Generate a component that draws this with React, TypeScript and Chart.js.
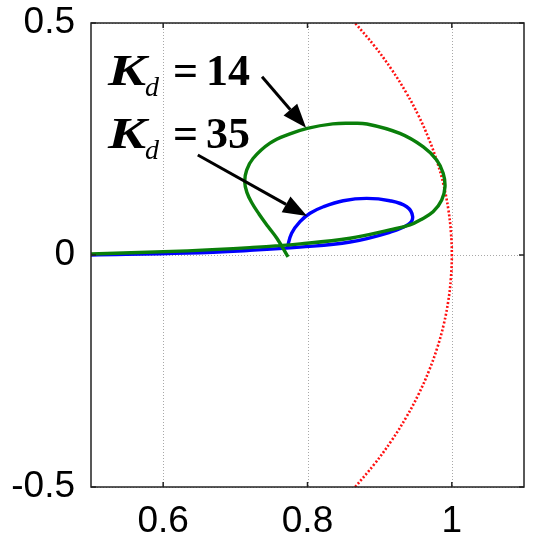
import React, { useEffect, useRef } from "react";
import { Chart, registerables } from "chart.js";

Chart.register(...registerables);

// Axis ticks
const xTicks = [0.6, 0.8, 1.0];
const yTicks = [-0.5, 0, 0.5];

// K_d = 14 (green)
const kd14X = [0.5, 0.634, 0.72, 0.79, 0.859, 0.914, 0.942, 0.956, 0.974, 0.986, 0.9905, 0.988, 0.979, 0.9605, 0.928, 0.8824, 0.859, 0.835, 0.7997, 0.7757, 0.748, 0.7245, 0.7157, 0.713, 0.716, 0.723, 0.733, 0.745, 0.758, 0.773];
const kd14Y = [0.002, 0.009, 0.016, 0.024, 0.036, 0.054, 0.0647, 0.0754, 0.093, 0.1185, 0.147, 0.176, 0.2047, 0.233, 0.262, 0.2823, 0.2838, 0.2825, 0.273, 0.261, 0.241, 0.208, 0.183, 0.158, 0.135, 0.112, 0.088, 0.062, 0.035, -0.004];

// K_d = 35 (blue)
const kd35X = [0.5, 0.634, 0.72, 0.7896, 0.859, 0.914, 0.9397, 0.9457, 0.9375, 0.914, 0.882, 0.8496, 0.822, 0.8035, 0.7896, 0.778, 0.772];
const kd35Y = [0.0, 0.004, 0.01, 0.017, 0.028, 0.049, 0.066, 0.0825, 0.104, 0.117, 0.122, 0.117, 0.104, 0.09, 0.072, 0.047, 0.016];

// Unit circle arc (red dotted)
const circleX = [0.866, 0.893, 0.9165, 0.9367, 0.9539, 0.9682, 0.9798, 0.9887, 0.995, 0.9987, 1.0, 0.9987, 0.995, 0.9887, 0.9798, 0.9682, 0.9539, 0.9367, 0.9165, 0.893, 0.866];
const circleY = [-0.5, -0.45, -0.4, -0.35, -0.3, -0.25, -0.2, -0.15, -0.1, -0.05, 0, 0.05, 0.1, 0.15, 0.2, 0.25, 0.3, 0.35, 0.4, 0.45, 0.5];

// Annotations
const labelValues = ["14", "35"];
const labelX = [0.5277, 0.5277];
const labelY = [0.366, 0.2306];
const arrowFromX = [0.737, 0.648];
const arrowFromY = [0.384, 0.2155];
const arrowToX = [0.798, 0.7993];
const arrowToY = [0.274, 0.084];

const toPts = (xs: number[], ys: number[]) => xs.map((x, i) => ({ x, y: ys[i] }));

const gridPlugin = {
  id: "dotGrid",
  beforeDatasetsDraw(chart: any) {
    const { ctx, chartArea: a, scales } = chart;
    ctx.save();
    ctx.strokeStyle = "#a8a8a8";
    ctx.lineWidth = 1;
    ctx.setLineDash([1, 2]);
    xTicks.forEach((v) => {
      const px = Math.round(scales.x.getPixelForValue(v)) + 0.5;
      ctx.beginPath();
      ctx.moveTo(px, a.top);
      ctx.lineTo(px, a.bottom);
      ctx.stroke();
    });
    yTicks.forEach((v) => {
      const py = Math.round(scales.y.getPixelForValue(v)) + 0.5;
      ctx.beginPath();
      ctx.moveTo(a.left, py);
      ctx.lineTo(a.right, py);
      ctx.stroke();
    });
    ctx.restore();
  },
};

const framePlugin = {
  id: "frame",
  afterDatasetsDraw(chart: any) {
    const { ctx, chartArea: a, scales } = chart;
    const xs = scales.x;
    const ys = scales.y;
    ctx.save();
    ctx.strokeStyle = "#222";
    ctx.lineWidth = 1.5;
    ctx.setLineDash([]);
    ctx.strokeRect(a.left, a.top, a.right - a.left, a.bottom - a.top);
    const tl = 5;
    xTicks.forEach((v) => {
      const px = xs.getPixelForValue(v);
      ctx.beginPath();
      ctx.moveTo(px, a.bottom);
      ctx.lineTo(px, a.bottom - tl);
      ctx.moveTo(px, a.top);
      ctx.lineTo(px, a.top + tl);
      ctx.stroke();
    });
    yTicks.forEach((v) => {
      const py = ys.getPixelForValue(v);
      ctx.beginPath();
      ctx.moveTo(a.left, py);
      ctx.lineTo(a.left + tl, py);
      ctx.moveTo(a.right, py);
      ctx.lineTo(a.right - tl, py);
      ctx.stroke();
    });

    // arrows
    ctx.strokeStyle = "#000";
    ctx.fillStyle = "#000";
    for (let i = 0; i < arrowFromX.length; i++) {
      const x0 = xs.getPixelForValue(arrowFromX[i]);
      const y0 = ys.getPixelForValue(arrowFromY[i]);
      const x1 = xs.getPixelForValue(arrowToX[i]);
      const y1 = ys.getPixelForValue(arrowToY[i]);
      const ang = Math.atan2(y1 - y0, x1 - x0);
      const hl = 24;
      const hw = 9;
      const bx = x1 - hl * Math.cos(ang);
      const by = y1 - hl * Math.sin(ang);
      ctx.lineWidth = 3;
      ctx.beginPath();
      ctx.moveTo(x0, y0);
      ctx.lineTo(bx, by);
      ctx.stroke();
      ctx.beginPath();
      ctx.moveTo(x1, y1);
      ctx.lineTo(bx + hw * Math.sin(ang), by - hw * Math.cos(ang));
      ctx.lineTo(bx - hw * Math.sin(ang), by + hw * Math.cos(ang));
      ctx.closePath();
      ctx.fill();
    }

    // labels
    ctx.textBaseline = "alphabetic";
    ctx.textAlign = "left";
    const serif = "'Liberation Serif', 'Times New Roman', serif";
    for (let i = 0; i < labelValues.length; i++) {
      const px = xs.getPixelForValue(labelX[i]);
      const py = ys.getPixelForValue(labelY[i]);
      ctx.save();
      ctx.translate(px - 3, py);
      ctx.scale(1.3, 1);
      ctx.font = "italic bold 44px " + serif;
      ctx.fillText("K", 0, 0);
      ctx.restore();
      ctx.font = "italic 28px " + serif;
      ctx.fillText("d", px + 34, py + 11);
      ctx.font = "bold 44px " + serif;
      ctx.fillText("=", px + 62, py);
      ctx.fillText(labelValues[i], px + 95, py);
    }
    ctx.restore();
  },
};

export default function App() {
  const ref = useRef<HTMLCanvasElement | null>(null);

  useEffect(() => {
    document.body.style.margin = "0";
    const canvas = ref.current;
    if (!canvas) return;
    const tickFont = { family: "'Liberation Sans', Arial, sans-serif", size: 37 };
    const chart = new Chart(canvas, {
      type: "scatter",
      data: {
        datasets: [
          {
            label: "Kd=14",
            data: toPts(kd14X, kd14Y),
            showLine: true,
            borderColor: "#0a7f0a",
            borderWidth: 3.4,
            pointRadius: 0,
            tension: 0.4,
            fill: false,
          },
          {
            label: "Kd=35",
            data: toPts(kd35X, kd35Y),
            showLine: true,
            borderColor: "#0000ff",
            borderWidth: 3.4,
            pointRadius: 0,
            tension: 0.4,
            fill: false,
          },
          {
            label: "unit circle",
            data: toPts(circleX, circleY),
            showLine: true,
            borderColor: "#ff1010",
            borderWidth: 2.6,
            borderDash: [2, 2],
            pointRadius: 0,
            tension: 0.4,
            fill: false,
          },
        ],
      },
      options: {
        responsive: false,
        animation: false,
        devicePixelRatio: 1,
        layout: { padding: { left: 0, top: 23, right: 12, bottom: 0 } },
        plugins: { legend: { display: false }, tooltip: { enabled: false } },
        scales: {
          x: {
            type: "linear",
            min: 0.5,
            max: 1.1,
            afterBuildTicks: (s: any) => {
              s.ticks = xTicks.map((v) => ({ value: v }));
            },
            afterFit: (s: any) => {
              s.height = 63;
              s.paddingLeft = 0;
              s.paddingRight = 0;
            },
            border: { display: false },
            grid: { display: false, drawTicks: false },
            ticks: {
              font: tickFont,
              color: "#000",
              padding: 13,
              maxRotation: 0,
              callback: (v: any) => String(Number(v)),
            },
          },
          y: {
            type: "linear",
            min: -0.5,
            max: 0.5,
            afterBuildTicks: (s: any) => {
              s.ticks = yTicks.map((v) => ({ value: v }));
            },
            afterFit: (s: any) => {
              s.width = 91;
              s.paddingTop = 0;
              s.paddingBottom = 0;
            },
            border: { display: false },
            grid: { display: false, drawTicks: false },
            ticks: {
              font: tickFont,
              color: "#000",
              padding: 16,
              callback: (v: any) => String(Number(v)),
            },
          },
        },
      },
      plugins: [gridPlugin, framePlugin],
    } as any);
    return () => chart.destroy();
  }, []);

  return (
    <div style={{ width: 536, height: 550, background: "#fff" }}>
      <canvas ref={ref} width={536} height={550} />
    </div>
  );
}
